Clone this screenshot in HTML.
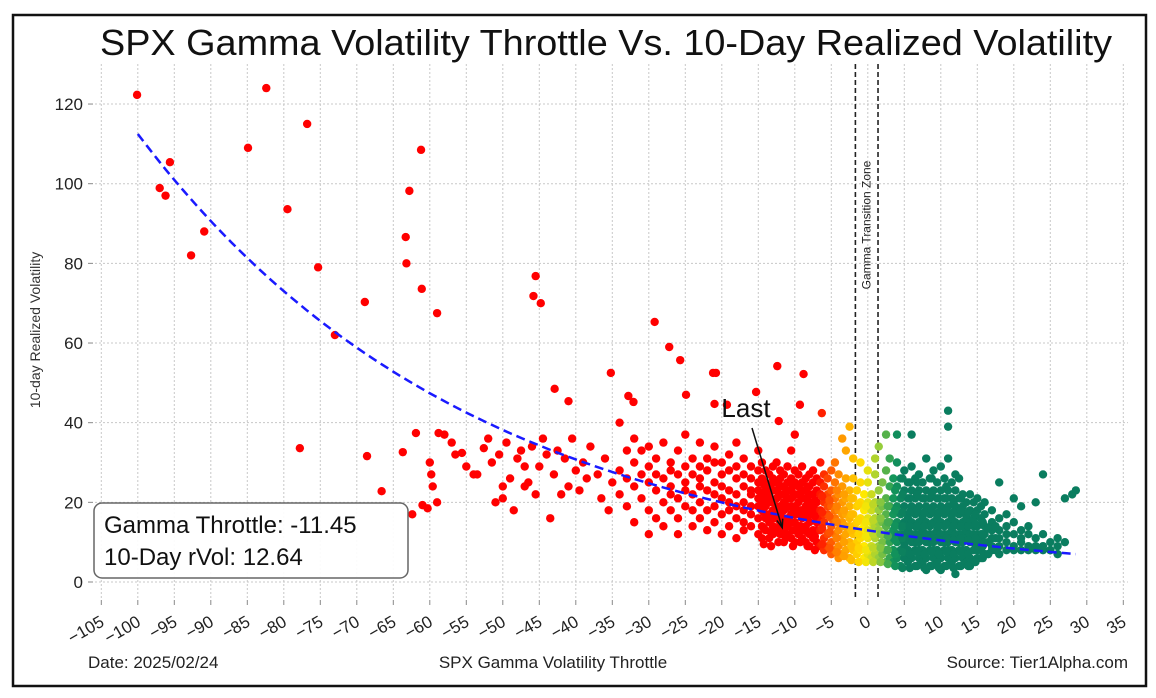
<!DOCTYPE html>
<html><head><meta charset="utf-8">
<style>
html,body{margin:0;padding:0;background:#fff;}
svg{display:block;font-family:"Liberation Sans Narrow","Liberation Sans",sans-serif;}
</style></head>
<body>
<svg id="chart" width="1156" height="698" viewBox="0 0 1156 698" xmlns="http://www.w3.org/2000/svg">
  <rect x="0" y="0" width="1156" height="698" fill="#fff"/>
  <path d="M13,686 L13,15 L1146,15 L1146,686 Z" fill="none" stroke="#111" stroke-width="2.5"/>
  <text x="606" y="55" text-anchor="middle" font-size="36" textLength="1012" lengthAdjust="spacingAndGlyphs" fill="#111">SPX Gamma Volatility Throttle Vs. 10-Day Realized Volatility</text>
  <g id="grid"></g>
  <g id="axes"></g>
  <g id="zone"></g>
  <g id="points"></g>
  <path id="trend" fill="none" stroke="#1a1aff" stroke-width="2.5" stroke-dasharray="9,5"/>
  <g id="annot"></g>
  <text x="40" y="330" transform="rotate(-90 40 330)" text-anchor="middle" font-size="14" fill="#333">10-day Realized Volatility</text>
  <text x="88" y="668" font-size="17" fill="#222">Date: 2025/02/24</text>
  <text x="553" y="668" text-anchor="middle" font-size="17" fill="#222">SPX Gamma Volatility Throttle</text>
  <text x="1128" y="668" text-anchor="end" font-size="17" fill="#222">Source: Tier1Alpha.com</text>
  <g id="infobox">
    <rect x="94" y="503" width="314" height="75" rx="8" fill="#fff" fill-opacity="0.92" stroke="#666" stroke-width="1.5"/>
    <text x="104" y="533" font-size="24" fill="#111">Gamma Throttle: -11.45</text>
    <text x="104" y="565" font-size="24" fill="#111">10-Day rVol: 12.64</text>
  </g>
</svg>
<script>
const xTicks = [-105,-100,-95,-90,-85,-80,-75,-70,-65,-60,-55,-50,-45,-40,-35,-30,-25,-20,-15,-10,-5,0,5,10,15,20,25,30,35];
const yTicks = [0,20,40,60,80,100,120];
const outlierX = [-100.1,-97,-96.2,-95.6,-90.9,-92.7,-84.9,-82.4,-79.5,-76.8,-75.3,-77.8,-73,-68.9,-68.6,-66.6,-63.7,-63.3,-62.8,-61.9,-63.2,-61.2,-61.1,-61,-62.4,-60.3,-60,-59.8,-59.6,-59,-58.8,-45.5,-45.8,-44.8,-42.9,-41,-35.2,-32.8,-32.1,-29.2,-27.2,-25.7,-24.9,-20.8,-21.2,-21,-19.3,-15.3,-12.4,-12.2,-8.8,-9.3,-10,-6.3];
const outlierY = [122.3,98.9,97,105.4,88,82,109,124,93.6,115,79,33.6,62,70.3,31.6,22.8,32.6,86.6,98.2,37.4,80,108.5,73.6,19.3,17,18.5,30,27,24,67.5,37.4,76.8,71.8,70,48.5,45.4,52.5,46.7,45.2,65.3,59,55.7,47,52.5,52.5,44.7,44.5,47.7,54.2,40.4,52.2,44.5,37,42.4];
const midX = [-58,-59,-57,-56.5,-55.6,-55,-54,-53.5,-52.6,-52,-51.5,-51,-50.5,-50,-50,-49.5,-49,-48.5,-48,-47.5,-47,-47,-46.5,-46,-45.5,-45,-44.5,-44,-43.5,-43,-42.5,-42,-41.5,-41,-40.5,-40,-39.5,-39,-38.5,-38,-37,-36.5,-36,-35.5,-35];
const midY = [37,20,35,32,32.4,29,27,27,33.6,36,30,20,32,24,21,35,26,18,31,33,29,24,25,34,22,29,36,32,16,27,33,22,31,24,36,28,23,30,26,34,27,21,31,18,25];
const colX = [-34,-33,-32,-31,-30,-29,-28,-27,-26,-25,-24,-23,-22,-21,-20,-19,-18,-17,-16,-15,
 -14.5,-14,-13.5,-13,-12.5,-12,-11.5,-11,-10.5,-10,-9.5,-9,-8.5,-8,-7.5,-7,
 -6.5,-6,-5.5,-5,-4.5,-4,-3.5,-3,-2.5,-2,-1.5,-1,-0.5,0,0.5,1,1.5,2,2.5,3,
 3.5,4,4.5,5,5.5,6,6.5,7,7.5,8,8.5,9,9.5,10,10.5,11,11.5,12,12.5,13,13.5,14,14.5,15,15.5,16,17,18,19,20,21,22,23,24,25,26,27,28,28.5];
const colY = [
 [40,22,28],[26,19,33],[30,24,15,36],[21,27,33],[18,25,29,34,12],[23,31,16,27],[20,26,35,14],[24,30,18,28,22],[16,21,27,33,12],[25,19,29,23,37],
 [14,22,27,31,18],[20,26,16,29,35,24],[23,18,28,13,31],[19,25,30,15,22,34],[21,27,17,24,12,30],[18,23,28,14,32,20],[22,16,26,19,29,11,35],[20,24,15,27,18,31,13],[17,22,26,19,14,29,23],[21,16,25,12,19,28,23,33],
 [18,22,14,26,20,11,30],[16,21,25,13,19,28,23],[20,15,24,17,11,27,22],[18,23,14,26,20,12,29,16],[21,16,25,13,19,30,23],[17,22,12,26,19,15,28,24],[20,14,24,18,10,27,22,16],[16,21,12,25,19,29,23,14],[19,15,23,11,26,17,21,33],[17,22,13,25,19,10,28,15],[20,14,24,17,12,27,22],[16,21,11,25,18,13,29,23],[19,14,23,10,26,17,21],[15,20,12,24,18,27,22,9],[17,22,13,25,19,11,28],[15,20,10,23,18,26,13],
 [18,13,22,9,25,16,30],[15,20,11,24,17,8,27],[17,12,22,9,26,19],[14,19,10,23,16,7,28],[16,12,21,8,25,18,30],[13,18,9,22,15,6,27],[15,11,20,7,24,17,36],[12,17,8,21,14,26,33],[14,10,19,6,23,16,39],[12,17,8,21,14,26,31],[15,10,19,7,23,13],[11,16,8,20,13,25,30],[14,9,18,6,22,12],[11,16,7,20,13,25,28],[13,9,18,6,22,15],[11,16,7,20,14,27,31],[13,9,18,6,23,15,34],[10,15,7,19,12,25],[12,8,17,5,21,14,28,37],[10,15,6,19,12,24,31],
 [13,8,17,5,21,11,26],[10,15,6,19,12,24,30,37],[12,8,17,4,21,14,26],[10,15,6,19,12,23,28,9],[13,8,17,5,21,11,25,16],[10,15,6,19,12,23,29,37],[12,8,17,4,21,14,26,10],[10,15,6,19,12,23,27,8],[13,8,17,5,21,11,25,16],[10,15,6,19,12,23,31,3],[12,8,17,4,21,14,26,10],[10,15,6,19,12,23,28,8],[13,8,17,5,21,11,25,16],[10,15,6,19,12,23,29,3],[12,8,17,4,21,14,26,10],[10,15,6,19,12,23,31,8,39,43],[13,8,17,5,21,11,25,16],[10,15,6,19,12,23,27,2],[12,8,17,4,21,14,26,10],[10,15,6,19,12,22,8],[13,8,17,5,20,11,16],[10,15,6,18,12,22,4],[12,8,16,5,20,14,10],[10,14,6,18,12,21,8],[12,8,16,6,19,11],[10,14,7,17,12,20],[11,8,15,13,18,9],[9,13,7,16,11,25],[10,14,8,12,17],[9,12,8,15,21],[10,8,13,11,19],[9,12,8,14],[8,11,9,20],[9,8,12,27],[8,10,8],[7,9,11],[21,10],[22],[23]
];
const fillX = [-14.25,-13.25,-12.25,-11.25,-10.25,-9.25,-8.25,-7.25,-6.25,-5.25,-4.25,-3.25,-2.25,-1.25,-0.25,0.75,1.75,2.75,3.75,4.75,5.75,6.75,7.75,8.75,9.75,10.75,11.75,12.75,13.75,14.75,15.75,16.5,17.5];
const fillY = [
 [9.5,13.5,17.5,21.5,24.5],[9,12.5,16.5,20.5,24.5],[10,13.5,17.5,21.5,25],[11,14.5,18.5,22.5],[9,13,17.5,21.5,24],[10,14,18,22],[9,12.5,16.5,20.5,24],[8,11.5,16.5,20.5],
 [9.5,13.5,17.5,21.5],[8.5,12.5,16.5,20.5],[7.5,11,15,19,23],[6.5,10,14,18,22],[5.5,9,13,17,21],[5,8.5,12,15.5,19.5],[5,8,11.5,15,19],[5,8.5,12,15.5,19.5],[5,8.5,12,16,20],[4.5,8,11.5,15,19],
 [4,7,10.5,14,18,23],[3.5,7.5,11,14,17.5,22,26],[3.5,7,10.5,14,17.5,21,25],[4,7.5,11,14,18,22,25],[3.5,7,10.5,14,17.5,21],[4,7.5,11,14.5,18,22,26],[3.5,7,10.5,14,17.5,21],[4,7.5,11,14.5,18,21,24],[3.5,7,10.5,14,17.5,20],[4,7.5,11,14,18,21],[4,7,10.5,14,17.5],[5,8.5,11,14.5,17],[6,9,12,15],[7,10,13.5],[8,11,14]
];
const lastPoint = [-11.45, 12.64];
const fitA = 12.96, fitB = -0.02161, fitRange = [-100, 28.5];
const zoneBounds = [-1.7, 1.4];

const NS = "http://www.w3.org/2000/svg";
const X0 = 101.3, XS = 7.3, Y0 = 582, YS = 3.983;
const sx = v => X0 + (v + 105) * XS;
const sy = v => Y0 - v * YS;
const pTop = 64, pBottom = 599, pLeft = 95, pRight = 1128;
function mk(tag, attrs, parent){ const e = document.createElementNS(NS, tag); for (const k in attrs) e.setAttribute(k, attrs[k]); parent.appendChild(e); return e; }

const gridG = document.getElementById('grid'), axesG = document.getElementById('axes');
xTicks.forEach(t => {
  const l = mk('line', {x1:sx(t), x2:sx(t), y1:pTop, y2:pBottom, stroke:'#c8c8c8', 'stroke-width':1, 'stroke-dasharray':'2,2'}, gridG);
  
  
  const tk = mk('line', {x1:sx(t), x2:sx(t), y1:pBottom+1, y2:pBottom+6, stroke:'#888', 'stroke-width':1}, axesG);
  
  
  const tx = mk('text', {x:sx(t)+4, y:pBottom+26, 'text-anchor':'end', 'font-size':17, fill:'#222', transform:'rotate(-30 ' + (sx(t)+4) + ' ' + (pBottom+26) + ')'}, axesG);
  tx.textContent = t < 0 ? '\u2212' + (-t) : String(t);
  
  
});
yTicks.forEach(t => {
  const l = mk('line', {x1:pLeft, x2:pRight, y1:sy(t), y2:sy(t), stroke:'#c8c8c8', 'stroke-width':1, 'stroke-dasharray':'2,2'}, gridG);
  
  
  const tk = mk('line', {x1:pLeft-7, x2:pLeft-2, y1:sy(t), y2:sy(t), stroke:'#888', 'stroke-width':1}, axesG);
  
  
  const tx = mk('text', {x:pLeft-12, y:sy(t)+6, 'text-anchor':'end', 'font-size':17, fill:'#222'}, axesG);
  tx.textContent = String(t);
  
  
});

const zoneG = document.getElementById('zone');
zoneBounds.forEach(b => {
  const l = mk('line', {x1:sx(b), x2:sx(b), y1:pTop, y2:pBottom, stroke:'#222', 'stroke-width':1.6, 'stroke-dasharray':'5,3'}, zoneG);
  
  
});
const zx = (sx(zoneBounds[0]) + sx(zoneBounds[1])) / 2 + 4;
const zt = mk('text', {x:zx, y:225, 'text-anchor':'middle', 'font-size':12, fill:'#222', transform:'rotate(-90 ' + zx + ' 225)'}, zoneG);
zt.textContent = 'Gamma Transition Zone';



function lerpC(a, b, t){ return a.map((v,i) => Math.round(v + (b[i]-v)*t)); }
const colorStops = [[-7,[255,0,0]],[-4,[255,140,0]],[-0.5,[255,232,0]],[1.5,[150,205,60]],[3.5,[20,150,90]],[5,[10,125,95]]];
function colorFor(x){
  if (x <= colorStops[0][0]) return 'rgb(255,0,0)';
  for (let i = 0; i < colorStops.length-1; i++) {
    if (x <= colorStops[i+1][0]) {
      const t = (x-colorStops[i][0])/(colorStops[i+1][0]-colorStops[i][0]);
      const c = lerpC(colorStops[i][1], colorStops[i+1][1], t);
      return 'rgb(' + c.join(',') + ')';
    }
  }
  return 'rgb(10,125,95)';
}
const ptsG = document.getElementById('points');
function dot(x, y){
  const c = mk('circle', {cx:sx(x), cy:sy(y), r:4.2, fill:colorFor(x)}, ptsG);
  
  
}
outlierX.forEach((x,i) => dot(x, outlierY[i]));
midX.forEach((x,i) => dot(x, midY[i]));
colX.forEach((x,i) => colY[i].forEach(y => dot(x, y)));
fillX.forEach((x,i) => fillY[i].forEach(y => dot(x, y)));
dot(lastPoint[0], lastPoint[1]);

let d = '';
for (let i = 0; i <= 100; i++) {
  const x = fitRange[0] + (fitRange[1]-fitRange[0]) * i / 100;
  d += (i ? 'L' : 'M') + sx(x).toFixed(1) + ',' + sy(fitA*Math.exp(fitB*x)).toFixed(1);
}
document.getElementById('trend').setAttribute('d', d);

const anG = document.getElementById('annot');
const lt = mk('text', {x:746, y:417, 'text-anchor':'middle', 'font-size':26, fill:'#111'}, anG);
lt.textContent = 'Last';


const apx = sx(lastPoint[0]) - 2, apy = sy(lastPoint[1]) - 4;
const ar = mk('line', {x1:752, y1:428, x2:apx, y2:apy, stroke:'#111', 'stroke-width':1.5}, anG);


const ang = Math.atan2(apy-428, apx-752);
const h1 = [apx - 9*Math.cos(ang-0.35), apy - 9*Math.sin(ang-0.35)], h2 = [apx - 9*Math.cos(ang+0.35), apy - 9*Math.sin(ang+0.35)];
const hd = mk('path', {d:'M' + h1.join(',') + ' L' + apx + ',' + apy + ' L' + h2.join(','), fill:'none', stroke:'#111', 'stroke-width':1.5}, anG);


document.getElementById('chart').appendChild(document.getElementById('infobox'));
</script>
</body></html>
